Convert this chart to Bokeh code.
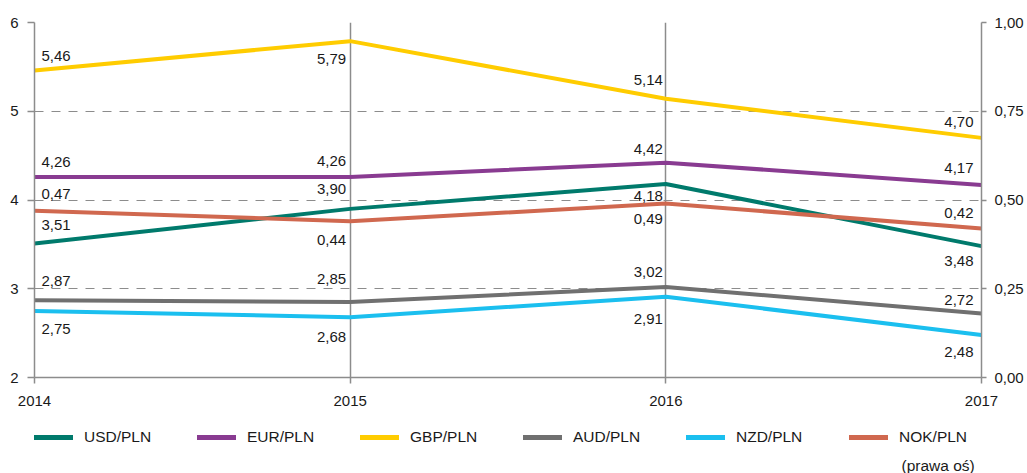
from bokeh.plotting import figure
from bokeh.layouts import column
from bokeh.models import (Range1d, LinearAxis, FixedTicker, CustomJSTickFormatter,
                          Legend, LegendItem, Label)
from bokeh.core.properties import value
from bokeh.embed import file_html
from bokeh.resources import INLINE

# ---------------- data ----------------
years = [2014, 2015, 2016, 2017]
usd = [3.51, 3.90, 4.18, 3.48]
eur = [4.26, 4.26, 4.42, 4.17]
gbp = [5.46, 5.79, 5.14, 4.70]
aud = [2.87, 2.85, 3.02, 2.72]
nzd = [2.75, 2.68, 2.91, 2.48]
nok = [0.47, 0.44, 0.49, 0.42]   # right axis
names = ["USD/PLN", "EUR/PLN", "GBP/PLN", "AUD/PLN", "NZD/PLN", "NOK/PLN"]
nok_note = "(prawa oś)"
left_ticks = [2, 3, 4, 5, 6]
right_ticks = [0, 0.25, 0.5, 0.75, 1.0]

# ---------------- styles ----------------
colors = ["#007A6C", "#893B91", "#FFCC00", "#707070", "#1BBFEF", "#D0684F"]
# label vertical offsets (screen px, + = below the line) per series & year
label_dy = [
    [-18, -20, 12, 15],    # USD
    [-15, -16, -14, -17],  # EUR
    [-14, 18, -19, -16],   # GBP
    [-19, -23, -15, -14],  # AUD
    [18, 20, 22, 17],      # NZD
    [-17, 19, 15, -15],    # NOK
]
label_dx = [7, -4, -3, -8]
FONT = "Liberation Sans"
TXT = "#1a1a1a"
GRID = "#8c8c8c"
FL, FR = 34, 981          # frame left / right in page pixels

p = figure(width=1027, height=418, output_backend="svg", toolbar_location=None,
           x_range=Range1d(2014, 2017), y_range=Range1d(2, 6),
           min_border_left=FL, min_border_right=1027 - FR, min_border_top=22,
           min_border_bottom=41)
p.extra_y_ranges = {"nok": Range1d(0, 1)}
p.outline_line_color = None
p.background_fill_color = "white"
p.border_fill_color = "white"

def style_axis(ax, tick_out):
    ax.axis_line_color = GRID
    ax.axis_line_width = 1.5
    ax.major_tick_line_color = GRID
    ax.major_tick_line_width = 1.5
    ax.major_tick_out = tick_out
    ax.major_tick_in = 0
    ax.minor_tick_line_color = None
    ax.major_label_text_font = FONT
    ax.major_label_text_font_size = "15px"
    ax.major_label_text_color = TXT

xa = p.xaxis[0]
xa.ticker = FixedTicker(ticks=years)
style_axis(xa, 6)
xa.major_label_standoff = 12

ya = p.yaxis[0]
ya.ticker = FixedTicker(ticks=left_ticks)
style_axis(ya, 7)
ya.major_label_standoff = 9

ra = LinearAxis(y_range_name="nok", ticker=FixedTicker(ticks=right_ticks),
                formatter=CustomJSTickFormatter(code="return tick.toFixed(2).replace('.', ',');"))
style_axis(ra, 5)
ra.major_label_standoff = 8
p.add_layout(ra, "right")

p.xgrid.ticker = FixedTicker(ticks=[2015, 2016])
p.xgrid.grid_line_color = GRID
p.xgrid.grid_line_width = 1.5
p.ygrid.ticker = FixedTicker(ticks=[3, 4, 5, 6])
p.ygrid.grid_line_color = GRID
p.ygrid.grid_line_width = 1.2
p.ygrid.grid_line_dash = "9 8"

series = [usd, eur, gbp, aud, nzd, nok]
for i, vals in enumerate(series):
    kw = {"y_range_name": "nok"} if i == 5 else {}
    p.line(years, vals, line_color=colors[i], line_width=4, **kw)

def fmt(v):
    return f"{v:.2f}".replace(".", ",")

for i, vals in enumerate(series):
    kw = {"y_range_name": "nok"} if i == 5 else {}
    p.text(x=years[:1], y=vals[:1], text=[fmt(vals[0])],
           x_offset=label_dx[0], y_offset=label_dy[i][0],
           text_align="left", text_baseline="middle",
           text_font=value(FONT), text_font_size="15px", text_color=TXT, **kw)
    p.text(x=years[1:], y=vals[1:], text=[fmt(v) for v in vals[1:]],
           x_offset=label_dx[1:], y_offset=label_dy[i][1:],
           text_align="right", text_baseline="middle",
           text_font=value(FONT), text_font_size="15px", text_color=TXT, **kw)

# ---------------- legend strip (frame aligned with the chart frame) ----------------
LH = 55
lg = figure(width=1027, height=LH, output_backend="svg", toolbar_location=None,
            x_range=Range1d(FL, FR), y_range=Range1d(0, LH),
            min_border_left=FL, min_border_right=1027 - FR, min_border_top=0, min_border_bottom=0)
lg.outline_line_color = None
lg.axis.visible = False
lg.grid.visible = False
# legend proxies: same series, lying outside this strip's ranges (never visible)
proxies = [lg.line(x=years, y=vals, line_color=colors[i], line_width=5, line_cap="round")
           for i, vals in enumerate(series)]

legend = Legend(items=[LegendItem(label=names[i], renderers=[proxies[i]]) for i in range(6)],
                orientation="horizontal", location=(0, 26))
legend.glyph_width = 39
legend.glyph_height = 20
legend.label_height = 20
legend.label_standoff = 11
legend.label_width = 113
legend.spacing = 0
legend.padding = 0
legend.margin = 0
legend.border_line_color = None
legend.background_fill_alpha = 0
legend.label_text_font = FONT
legend.label_text_font_size = "15.5px"
legend.label_text_color = TXT
lg.add_layout(legend, "center")
lg.add_layout(Label(x=901, y=8, text=nok_note, text_baseline="middle", text_align="left",
                    text_font=FONT, text_font_size="15.5px", text_color=TXT))

layout = column(p, lg, spacing=0)
open("out.html", "w").write(file_html(layout, INLINE))
